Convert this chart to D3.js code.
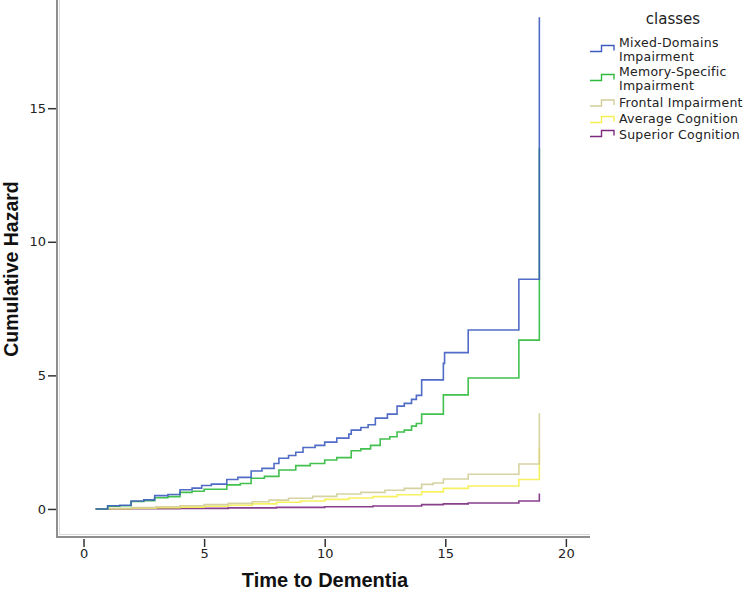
<!DOCTYPE html>
<html><head><meta charset="utf-8">
<script src="https://cdnjs.cloudflare.com/ajax/libs/d3/7.8.5/d3.min.js"></script>
<style>
html,body{margin:0;padding:0;background:#fff;}
svg{display:block;}
</style></head>
<body><svg id="chart" width="750" height="591"></svg>
<script>
// ---- data (time to dementia, cumulative hazard), step functions ----
const classes = ["Mixed-Domains Impairment","Memory-Specific Impairment","Frontal Impairment","Average Cognition","Superior Cognition"];
const legendLines = [["Mixed-Domains","Impairment"],["Memory-Specific","Impairment"],["Frontal Impairment"],["Average Cognition"],["Superior Cognition"]];
const colors = ["#3d5cc0","#2eba3c","#d2cd98","#f6ef4f","#7b2a80"];

const mixedT = [0.5,1.0,1.5,1.97,2.5,2.95,3.5,4.0,4.5,4.9,5.3,5.94,6.4,6.95,7.4,7.9,8.1,8.5,8.8,9.1,9.6,10.0,10.5,11.0,11.1,11.5,11.8,12.1,12.6,13.0,13.3,13.6,13.8,14.02,14.92,14.97,15.95,18.05,18.9];
const mixedV = [0,0.12,0.14,0.3,0.34,0.5,0.54,0.72,0.78,0.88,0.93,1.1,1.18,1.42,1.52,1.7,1.9,2.0,2.12,2.3,2.38,2.5,2.65,2.8,2.95,3.05,3.15,3.4,3.55,3.85,3.95,4.1,4.25,4.83,5.45,5.85,6.7,8.6,18.4];

const memoryT = [0.5,1.0,1.5,1.97,2.5,2.95,3.5,4.0,4.5,5.0,5.94,6.5,6.95,7.5,8.1,8.8,9.4,10.0,10.5,11.1,11.5,11.9,12.3,12.7,13.0,13.3,13.6,13.8,14.02,14.92,15.95,18.05,18.9];
const memoryV = [0,0.1,0.12,0.28,0.31,0.42,0.46,0.62,0.66,0.74,0.9,0.95,1.15,1.22,1.46,1.62,1.7,1.83,1.92,2.18,2.25,2.38,2.62,2.7,2.88,2.95,3.1,3.2,3.55,4.27,4.9,6.32,13.5];

const frontalT = [0.5,1.0,2.0,3.0,4.0,5.0,6.0,7.0,7.7,8.5,9.5,10.5,11.5,12.5,13.3,14.02,14.5,14.92,15.95,18.05,18.9];
const frontalV = [0,0.02,0.05,0.08,0.12,0.16,0.21,0.27,0.33,0.4,0.47,0.56,0.62,0.7,0.77,0.92,0.97,1.12,1.3,1.68,3.58];

const averageT = [0.5,1.0,2.0,3.0,4.0,5.0,6.0,7.0,8.0,9.0,10.0,11.0,12.0,13.0,14.02,14.92,15.95,18.05,18.9];
const averageV = [0,0.01,0.03,0.05,0.07,0.1,0.14,0.19,0.25,0.3,0.36,0.41,0.46,0.53,0.64,0.77,0.86,1.1,2.3];

const superiorT = [0.5,2.0,4.0,6.0,8.0,10.0,12.0,14.02,14.92,15.95,18.05,18.9];
const superiorV = [0,0.01,0.02,0.04,0.06,0.08,0.11,0.16,0.19,0.22,0.3,0.58];

const xTicks = [0,5,10,15,20];
const yTicks = [0,5,10,15];

const seriesT = [mixedT, memoryT, frontalT, averageT, superiorT];
const seriesV = [mixedV, memoryV, frontalV, averageV, superiorV];

// ---- chart ----
const svg = d3.select("#chart");
const x = d3.scaleLinear().domain([-1.1, 21]).range([57, 590]);
const y = d3.scaleLinear().domain([-1.05, 19.05]).range([537, 0]);

// axis frame (double grey lines)
svg.append("line").attr("x1",57).attr("x2",57).attr("y1",0).attr("y2",538)
  .attr("stroke","#8e8e8e").attr("stroke-width",2);
svg.append("line").attr("x1",59.5).attr("x2",59.5).attr("y1",0).attr("y2",535)
  .attr("stroke","#dadada").attr("stroke-width",1);
svg.append("line").attr("x1",56).attr("x2",590).attr("y1",537).attr("y2",537)
  .attr("stroke","#8e8e8e").attr("stroke-width",2);
svg.append("line").attr("x1",60).attr("x2",590).attr("y1",534.5).attr("y2",534.5)
  .attr("stroke","#dadada").attr("stroke-width",1);

const gy = svg.append("g").attr("transform","translate(56,0)")
  .call(d3.axisLeft(y).tickValues(yTicks).tickSize(8).tickPadding(2));
const gx = svg.append("g").attr("transform","translate(0,539)")
  .call(d3.axisBottom(x).tickValues(xTicks).tickSize(8).tickPadding(2));
[gx, gy].forEach(g => {
  g.select(".domain").remove();
  g.selectAll(".tick line").attr("stroke","#333").attr("stroke-width",1.5);
  g.selectAll(".tick text").attr("fill","#222")
    .style("font-family","'DejaVu Sans', sans-serif").style("font-size","13px");
});

// titles
svg.append("text").attr("transform","translate(18,269) rotate(-90)")
  .attr("text-anchor","middle")
  .style("font-family","'Liberation Sans', Arial, sans-serif").style("font-weight","bold")
  .style("font-size","19.5px").attr("fill","#111").text("Cumulative Hazard");
svg.append("text").attr("x",325).attr("y",587).attr("text-anchor","middle")
  .style("font-family","'Liberation Sans', Arial, sans-serif").style("font-weight","bold")
  .style("font-size","20px").attr("fill","#111").text("Time to Dementia");

// lines
const line = d3.line().curve(d3.curveStepAfter).x(d => x(d[0])).y(d => y(d[1]));
const order = [4,3,2,1,0];
order.forEach(i => {
  const pts = seriesT[i].map((t,j) => [t, seriesV[i][j]]);
  svg.append("path").datum(pts).attr("d", line)
    .attr("fill","none").attr("stroke", colors[i]).attr("stroke-width",1.6)
    .attr("stroke-opacity",0.9);
});

// legend
svg.append("text").attr("x",673).attr("y",24).attr("text-anchor","middle")
  .style("font-family","'DejaVu Sans', sans-serif").style("font-size","15px")
  .attr("fill","#222").text("classes");
const legendBase = [47, 76, 107, 123, 139];
const symY = [51.5, 80.5, 106, 122.5, 136.5];
classes.forEach((c, i) => {
  const by = symY[i];
  const g = svg.append("g");
  g.append("path")
    .attr("d", `M590,${by} L601.5,${by} L601.5,${by-6} L614,${by-6} L614,${by-1}`)
    .attr("fill","none").attr("stroke", colors[i]).attr("stroke-width",1.4);
  const t = g.append("text").attr("x",619).attr("y",legendBase[i])
    .style("font-family","'DejaVu Sans', sans-serif").style("font-size","12.5px")
    .style("letter-spacing","0.25px").attr("fill","#222");
  legendLines[i].forEach((s, k) => {
    t.append("tspan").attr("x",619).attr("dy", k === 0 ? 0 : 13.5).text(s);
  });
});
</script>
</body></html>
